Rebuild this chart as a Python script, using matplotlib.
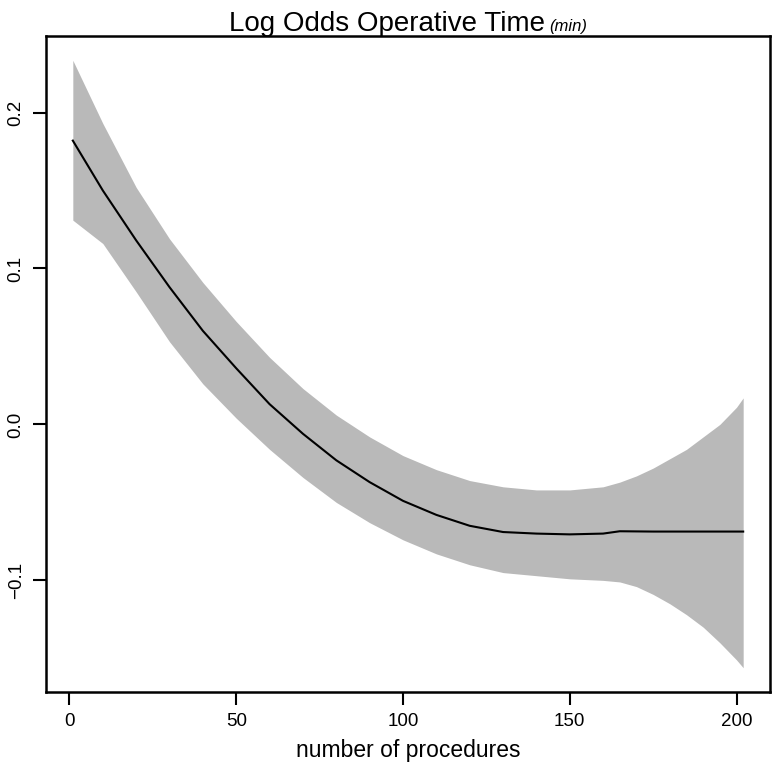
import matplotlib
matplotlib.use("Agg")
import matplotlib.pyplot as plt

plt.rcParams['font.family'] = ['Liberation Sans', 'DejaVu Sans']

# data
procedures = [1, 10, 20, 30, 40, 50, 60, 70, 80, 90, 100, 110, 120, 130, 140, 150, 160, 165,
              170, 175, 180, 185, 190, 195, 200, 202]
log_odds = [0.182, 0.150, 0.118, 0.088, 0.060, 0.036, 0.013, -0.006, -0.023, -0.037, -0.049,
            -0.058, -0.065, -0.069, -0.070, -0.0705, -0.070, -0.0685,
            -0.0686, -0.0687, -0.0687, -0.0687, -0.0687, -0.0687, -0.0687, -0.0687]
upper = [0.2335, 0.193, 0.152, 0.119, 0.091, 0.066, 0.043, 0.023, 0.006, -0.008, -0.020,
         -0.029, -0.036, -0.040, -0.042, -0.042, -0.040, -0.037,
         -0.033, -0.028, -0.022, -0.016, -0.008, 0.000, 0.011, 0.017]
lower = [0.131, 0.116, 0.085, 0.053, 0.026, 0.004, -0.016, -0.034, -0.050, -0.063, -0.074,
         -0.083, -0.090, -0.095, -0.097, -0.099, -0.100, -0.101,
         -0.104, -0.109, -0.115, -0.122, -0.130, -0.140, -0.151, -0.156]
xticks = [0, 50, 100, 150, 200]
yticks = [-0.1, 0.0, 0.1, 0.2]
ytick_labels = ["\u22120.1", "0.0", "0.1", "0.2"]

W, H = 774, 772
fig = plt.figure(figsize=(W / 100, H / 100), dpi=100)
ax = fig.add_axes([46 / W, 1 - 692 / H, (770 - 46) / W, (692 - 36) / H])

ax.fill_between(procedures, lower, upper, color='#B9B9B9', linewidth=0)
ax.plot(procedures, log_odds, color='black', linewidth=1.5)

xr = procedures[-1] - procedures[0]
ax.set_xlim(procedures[0] - 0.04 * xr, procedures[-1] + 0.04 * xr)
ymin, ymax = min(lower), max(upper)
yr = ymax - ymin
ax.set_ylim(ymin - 0.04 * yr, ymax + 0.04 * yr)

ax.set_xticks(xticks)
ax.set_xticklabels([str(t) for t in xticks], fontsize=13.5)
ax.set_yticks(yticks)
ax.set_yticklabels(ytick_labels, fontsize=13.5, rotation=90, va='center')
ax.tick_params(axis='both', length=9.4, width=1.5, color='black')
ax.tick_params(axis='x', pad=6)
ax.tick_params(axis='y', pad=6)
for s in ax.spines.values():
    s.set_linewidth(1.8)

ax.set_xlabel("number of procedures", fontsize=16.5, labelpad=6)

fig.text(545 / W, 1 - 31 / H, "Log Odds Operative Time", fontsize=20, ha='right', va='baseline')
fig.text(549 / W, 1 - 31 / H, "(min)", fontsize=12, style='italic', ha='left', va='baseline')

fig.savefig("out.png", dpi=100)
